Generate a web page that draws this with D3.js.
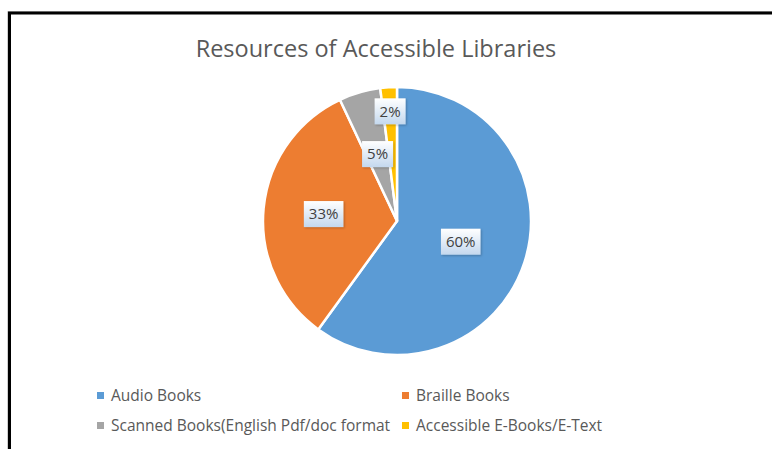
<!DOCTYPE html>
<html>
<head>
<meta charset="utf-8">
<script src="https://cdn.jsdelivr.net/npm/d3@7"></script>
<style>
  html, body { margin: 0; padding: 0; background: #fff; }
  svg { display: block; }
</style>
</head>
<body>
<div id="chart"></div>
<script>
// Chart data
const categories = ['Audio Books', 'Braille Books', 'Scanned Books(English Pdf/doc format', 'Accessible E-Books/E-Text'];
const shares = [60, 33, 5, 2];
const colors = ['#5B9BD5', '#ED7D31', '#A5A5A5', '#FFC000'];
const chartTitle = 'Resources of Accessible Libraries';

const W = 772, H = 449;
const svg = d3.select('#chart').append('svg')
    .attr('width', W)
    .attr('height', H);

// Frame (only top and left edges are visible in the crop)
svg.append('path')
    .attr('d', `M7.5,${H} V11.5 H${W}`)
    .attr('fill', 'none')
    .attr('stroke', '#d0d0d0')
    .attr('stroke-width', 1);
svg.append('path')
    .attr('d', `M9.5,${H} V13 H${W}`)
    .attr('fill', 'none')
    .attr('stroke', '#000')
    .attr('stroke-width', 3);

// Title
svg.append('text')
    .attr('x', 376)
    .attr('y', 57)
    .attr('text-anchor', 'middle')
    .style('font-family', '"Open Sans", sans-serif')
    .style('font-size', '23.5px')
    .style('fill', '#595959')
    .text(chartTitle);

// Pie
const cx = 397, cy = 221, radius = 134;
const g = svg.append('g').attr('transform', `translate(${cx},${cy})`);

const pie = d3.pie().sort(null).value(d => d.value);
const arcs = pie(categories.map((c, i) => ({ name: c, value: shares[i] })));
const arc = d3.arc().innerRadius(0).outerRadius(radius);

g.selectAll('path.slice')
    .data(arcs)
    .enter()
    .append('path')
    .attr('class', 'slice')
    .attr('d', arc)
    .attr('fill', (d, i) => colors[i])
    .attr('stroke', '#fff')
    .attr('stroke-width', 2.5)
    .attr('stroke-linejoin', 'round');

// Data label boxes (gradient callouts)
const defs = svg.append('defs');
const grad = defs.append('linearGradient')
    .attr('id', 'lblGrad')
    .attr('x1', 0).attr('y1', 0).attr('x2', 0).attr('y2', 1);
grad.append('stop').attr('offset', '0%').attr('stop-color', '#ffffff');
grad.append('stop').attr('offset', '100%').attr('stop-color', '#c4d8ee');

const shadow = defs.append('filter').attr('id', 'lblShadow')
    .attr('x', '-20%').attr('y', '-20%').attr('width', '150%').attr('height', '150%');
shadow.append('feDropShadow')
    .attr('dx', 1).attr('dy', 1)
    .attr('stdDeviation', 1)
    .attr('flood-color', '#000')
    .attr('flood-opacity', 0.25);

// how far out along each slice the label sits
const labelPos = [0.5, 0.55, 0.52, 0.82];
const total = d3.sum(shares);

arcs.forEach((d, i) => {
    const r = radius * labelPos[i];
    const lArc = d3.arc().innerRadius(r).outerRadius(r);
    const [lx, ly] = lArc.centroid(d);
    const lbl = g.append('g').attr('transform', `translate(${lx},${ly})`);
    const txt = `${Math.round(d.value / total * 100)}%`;
    const t = lbl.append('text')
        .attr('text-anchor', 'middle')
        .attr('dy', '0.36em')
        .style('font-family', '"Open Sans", sans-serif')
        .style('font-size', '15px')
        .style('fill', '#404040')
        .text(txt);
    const tw = t.node().getComputedTextLength();
    lbl.insert('rect', 'text')
        .attr('x', -tw / 2 - 5)
        .attr('y', -13)
        .attr('width', tw + 10)
        .attr('height', 26)
        .attr('fill', 'url(#lblGrad)')
        .attr('filter', 'url(#lblShadow)');
});

// Legend, two columns
const legendX = [97, 402];
const legendY = [396, 426];
const legend = svg.append('g');
categories.forEach((c, i) => {
    const item = legend.append('g')
        .attr('transform', `translate(${legendX[i % 2]},${legendY[Math.floor(i / 2)]})`);
    item.append('rect')
        .attr('x', 0)
        .attr('y', -4)
        .attr('width', 7)
        .attr('height', 7)
        .attr('fill', colors[i]);
    item.append('text')
        .attr('x', 14)
        .attr('y', 0)
        .attr('dy', '0.35em')
        .style('font-family', '"Open Sans", sans-serif')
        .style('font-size', '15.5px')
        .style('fill', '#595959')
        .text(c);
});
</script>
</body>
</html>
